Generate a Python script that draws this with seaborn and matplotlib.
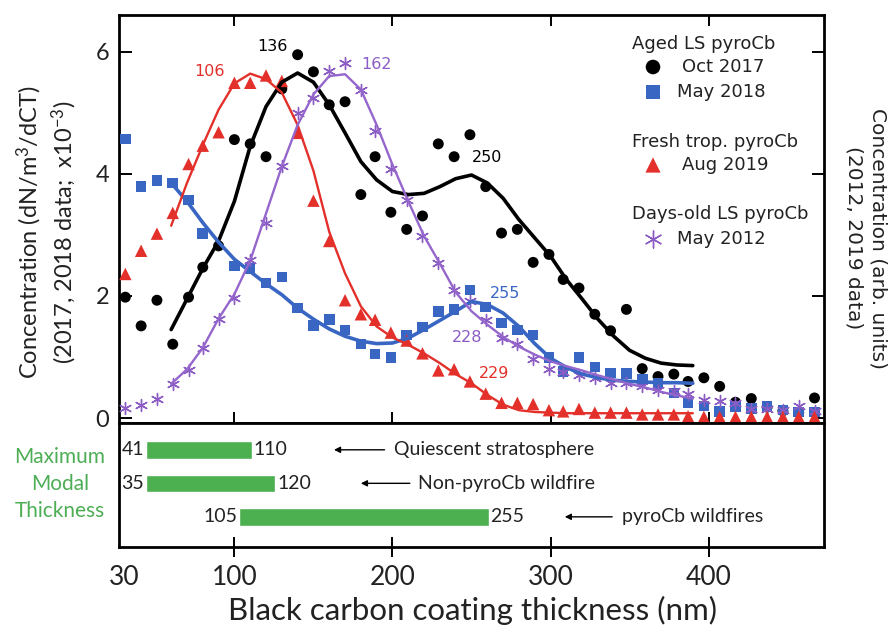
import numpy as np
import matplotlib
matplotlib.use("Agg")
import matplotlib.pyplot as plt
import seaborn as sns

sns.set_theme(style="white")
plt.rcParams['font.family'] = ['Lato', 'DejaVu Sans']
plt.rcParams['mathtext.fontset'] = 'custom'
plt.rcParams['mathtext.rm'] = 'Lato'
plt.rcParams['mathtext.it'] = 'Lato:italic'
plt.rcParams['mathtext.bf'] = 'Lato:bold'

# ---------------- data ----------------
bins = [31, 41, 51, 61, 71, 80, 90, 100, 110, 120, 130, 140, 150, 160, 170,
        180, 189, 199, 209, 219, 229, 239, 249, 259, 269, 279, 289, 299, 308, 318,
        328, 338, 348, 358, 368, 378, 387, 397, 407, 417, 427, 437, 447, 457, 467]

oct2017 = [1.98, 1.51, 1.93, 1.21, 1.98, 2.47, 2.82, 4.56, 4.49, 4.28, 5.39, 5.95, 5.67, 5.13, 5.18,
           3.66, 4.28, 3.37, 3.09, 3.31, 4.49, 4.28, 4.64, 3.79, 3.03, 3.09, 2.55, 2.68, 2.27, 2.13,
           1.70, 1.43, 1.78, 0.81, 0.68, 0.72, 0.60, 0.66, 0.52, 0.26, 0.32, 0.18, 0.12, 0.09, 0.33]

may2018 = [4.57, 3.79, 3.89, 3.85, 3.57, 3.02, np.nan, 2.49, 2.45, 2.21, 2.31, 1.80, 1.52, 1.61, 1.44,
           1.21, 1.05, 0.99, 1.36, 1.49, 1.75, 1.78, 2.10, 1.82, 1.56, 1.44, 1.36, 0.99, 0.76, 0.99,
           0.84, 0.74, 0.73, 0.63, 0.57, 0.41, 0.26, 0.20, 0.11, 0.19, 0.16, 0.19, 0.13, 0.10, 0.10]

aug2019 = [2.36, 2.74, 3.02, 3.36, 4.16, 4.46, 4.68, 5.49, 5.49, 5.61, 5.52, 4.67, 3.56, 2.90, 1.93,
           1.70, 1.61, 1.40, 1.27, 1.06, 0.78, 0.80, 0.60, 0.40, 0.25, 0.25, 0.23, 0.13, 0.11, 0.15,
           0.09, 0.09, 0.09, 0.06, 0.06, 0.06, 0.03, 0.02, 0.02, 0.02, 0.02, 0.02, 0.02, 0.02, 0.02]

may2012 = [0.17, 0.21, 0.31, 0.56, 0.79, 1.15, 1.62, 1.97, 2.59, 3.19, 4.12, 5.00, 5.24, 5.68, 5.81,
           5.38, 4.70, 4.08, 3.57, 2.98, 2.54, 2.09, 1.91, 1.60, 1.31, 1.21, 0.96, 0.81, 0.76, 0.70,
           0.66, 0.58, 0.57, 0.53, 0.46, 0.44, 0.40, 0.30, 0.28, 0.24, 0.15, 0.15, 0.14, 0.20, 0.12]

fit_x = [60, 70, 80, 90, 100, 110, 120, 130, 140, 150, 160, 170, 180, 190, 200, 210, 220,
         230, 240, 250, 260, 270, 280, 290, 300, 310, 320, 330, 340, 350, 360, 370, 380, 390]
fit_oct2017 = [1.45, 1.95, 2.45, 2.90, 3.55, 4.45, 5.10, 5.50, 5.65, 5.50, 5.13, 4.67, 4.20, 3.90, 3.71, 3.66, 3.68,
               3.79, 3.92, 3.98, 3.85, 3.60, 3.25, 2.95, 2.65, 2.27, 1.95, 1.62, 1.34, 1.11, 0.98, 0.90, 0.87, 0.86]
fit_may2018 = [3.85, 3.55, 3.20, 2.88, 2.60, 2.40, 2.20, 2.02, 1.80, 1.62, 1.46, 1.34, 1.26, 1.22, 1.23, 1.31, 1.45,
               1.60, 1.75, 1.91, 1.86, 1.72, 1.50, 1.22, 0.98, 0.83, 0.72, 0.66, 0.62, 0.60, 0.59, 0.58, 0.58, 0.57]
fit_aug2019 = [3.15, 3.85, 4.47, 5.05, 5.48, 5.64, 5.55, 5.33, 4.80, 4.05, 3.05, 2.37, 1.83, 1.50, 1.32, 1.20, 1.06,
               0.90, 0.72, 0.57, 0.38, 0.22, 0.13, 0.10, 0.09, 0.08, 0.08, 0.08, 0.08, 0.08, 0.08, 0.08, 0.08, 0.08]
fit_may2012 = [0.56, 0.80, 1.15, 1.63, 2.03, 2.58, 3.35, 4.12, 4.80, 5.30, 5.60, 5.63, 5.38, 4.80, 4.15, 3.55, 2.98,
               2.53, 2.06, 1.75, 1.53, 1.33, 1.17, 1.04, 0.93, 0.85, 0.78, 0.70, 0.63, 0.56, 0.50, 0.43, 0.37, 0.32]

peak_text = ["106", "136", "162", "250", "255", "228", "229"]
peak_x = [84, 124, 190, 260, 271, 247, 264]
peak_y = [5.67, 6.09, 5.79, 4.26, 2.04, 1.32, 0.73]

range_names = ["Quiescent stratosphere", "Non-pyroCb wildfire", "pyroCb wildfires"]
range_lo_text = ["41", "35", "105"]
range_hi_text = ["110", "120", "255"]
bar_lo = [44, 44, 103]
bar_hi = [111, 126, 261]

xtick_vals = [30, 100, 200, 300, 400]
ytick_vals = [0, 2, 4, 6]

# ---------------- style ----------------
C_BLACK = "#000000"
C_BLUE = "#3a66c3"
C_RED = "#e3302a"
C_PURPLE = "#8a5cc4"
C_PURPLE_LINE = "#9566cc"
C_GREEN = "#4caf50"
C_GREEN_TXT = "#4dae55"
LEG_FONT = "DejaVu Sans"

fig = plt.figure(figsize=(8.96, 6.25), dpi=100)
L, R = 119 / 896, 824 / 896
ax = fig.add_axes([L, 1 - 423 / 625, R - L, (423 - 15) / 625])
ax2 = fig.add_axes([L, 1 - 547 / 625, R - L, (547 - 423) / 625])

# scatter points
sns.scatterplot(x=bins, y=oct2017, ax=ax, color=C_BLACK, marker="o", s=62,
                edgecolor="none", zorder=3)
sns.scatterplot(x=bins, y=may2018, ax=ax, color=C_BLUE, marker="s", s=58,
                edgecolor="none", zorder=3)
sns.scatterplot(x=bins, y=may2012, ax=ax, color=C_PURPLE, marker=(6, 2, 0), s=75,
                edgecolor=C_PURPLE, linewidth=1.0, zorder=3)
sns.scatterplot(x=bins, y=aug2019, ax=ax, color=C_RED, marker="^", s=80,
                edgecolor="none", zorder=3)

# fitted curves
sns.lineplot(x=fit_x, y=fit_oct2017, ax=ax, color=C_BLACK, lw=2.6, zorder=4)
sns.lineplot(x=fit_x, y=fit_may2018, ax=ax, color=C_BLUE, lw=2.6, zorder=4)
sns.lineplot(x=fit_x, y=fit_aug2019, ax=ax, color=C_RED, lw=1.7, zorder=4)
sns.lineplot(x=fit_x, y=fit_may2012, ax=ax, color=C_PURPLE_LINE, lw=1.7, zorder=4)

peak_colors = [C_RED, C_BLACK, C_PURPLE, C_BLACK, C_BLUE, C_PURPLE, C_RED]
for t, px, py, c in zip(peak_text, peak_x, peak_y, peak_colors):
    ax.text(px, py, t, color=c, fontsize=11.5, family=LEG_FONT, ha="center", va="center", zorder=5)

ax.set_xlim(27, 473)
ax.set_ylim(-0.08, 6.6)
ax.set_yticks(ytick_vals)
ax.set_yticklabels([str(v) for v in ytick_vals])
ax.set_xticks(xtick_vals[1:])
ax.set_xticklabels([])
ax.set_xlabel("")
ax.set_ylabel("")
ax.tick_params(axis="y", left=True, right=True, direction="in", length=9, width=1.4,
               labelsize=17, pad=7, labelcolor="#222222", color="black")
ax.tick_params(axis="x", bottom=True, top=True, direction="in", length=8, width=1.4, color="black")
for s in ax.spines.values():
    s.set_linewidth(2.0)
    s.set_color("black")

# legend drawn as text (axes coordinates)
def axc(px, py):
    return ((px - 119) / 705, (423 - py) / 408)

leg_headers = ["Aged LS pyroCb", "Fresh trop. pyroCb", "Days-old LS pyroCb"]
leg_header_y = [44, 142, 214]
for t, py in zip(leg_headers, leg_header_y):
    ax.text(*axc(632, py), t, transform=ax.transAxes, fontsize=13, family=LEG_FONT,
            ha="left", va="center", color="#222222")
leg_items = ["Oct 2017", "May 2018", "Aug 2019", "May 2012"]
leg_item_y = [67, 92, 165, 239]
leg_item_x = [682, 677, 682, 677]
leg_marker = ["o", "s", "^", (6, 2, 0)]
leg_col = [C_BLACK, C_BLUE, C_RED, C_PURPLE]
leg_size = [110, 95, 120, 150]
for t, py, tx, m, c, sz in zip(leg_items, leg_item_y, leg_item_x, leg_marker, leg_col, leg_size):
    ax.text(*axc(tx, py), t, transform=ax.transAxes, fontsize=13, family=LEG_FONT,
            ha="left", va="center", color="#222222")
    mx, my = axc(653, py)
    ax.scatter([mx], [my], transform=ax.transAxes, marker=m, s=sz, color=c,
               edgecolors=c if m == (6, 2, 0) else "none", linewidths=1.0, clip_on=False, zorder=6)

# ---------------- lower panel ----------------
rows = [0, 1, 2]
ax2.barh(rows, np.array(bar_hi) - np.array(bar_lo), left=bar_lo, height=0.52, color=C_GREEN)
for r, lo, hi, tlo, thi in zip(rows, bar_lo, bar_hi, range_lo_text, range_hi_text):
    ax2.text(lo - 1, r, tlo, ha="right", va="center", fontsize=14, color="#222222")
    ax2.text(hi + 1, r, thi, ha="left", va="center", fontsize=14, color="#222222")

arrow_tip = [163, 180, 309]
arrow_tail = [195, 211, 339]
name_x = [201, 216, 345]
for r, tip, tail, nx, name in zip(rows, arrow_tip, arrow_tail, name_x, range_names):
    ax2.annotate("", xy=(tip, r), xytext=(tail, r),
                 arrowprops=dict(arrowstyle="-|>", color="black", lw=1.0,
                                 mutation_scale=9, shrinkA=0, shrinkB=0))
    ax2.text(nx, r, name, ha="left", va="center", fontsize=14, color="#222222")

ax2.set_xlim(27, 473)
ax2.set_ylim(2.9, -0.8)
ax2.set_yticks([])
ax2.set_xticks(xtick_vals)
ax2.set_xticklabels([str(v) for v in xtick_vals])
ax2.tick_params(axis="x", bottom=True, top=True, direction="inout", length=14, width=1.4,
                labelsize=19, pad=6, labelcolor="#222222", color="black")
ax2.xaxis.get_major_ticks()[0].tick1line.set_visible(False)
ax2.xaxis.get_major_ticks()[0].tick2line.set_visible(False)
ax2.tick_params(axis="x", which="major", top=False)
for s in ax2.spines.values():
    s.set_linewidth(2.0)
    s.set_color("black")

# axis titles
fig.text(472 / 896, 1 - 610 / 625, "Black carbon coating thickness (nm)", ha="center", va="center",
         fontsize=22.5, color="#222222")
fig.text(47 / 896, 1 - 232 / 625,
         "Concentration (dN/m$^3$/dCT)\n(2017, 2018 data;  x10$^{-3}$)",
         rotation=90, ha="center", va="center", fontsize=17, color="#222222",
         multialignment="center", linespacing=1.25)
fig.text(866 / 896, 1 - 238 / 625, "Concentration (arb. units)\n(2012, 2019 data)",
         rotation=270, ha="center", va="center", fontsize=14.5, family=LEG_FONT,
         color="#222222", multialignment="center", linespacing=1.35)
fig.text(60 / 896, 1 - 484 / 625, "Maximum\nModal\nThickness", ha="center", va="center",
         fontsize=15, color=C_GREEN_TXT, linespacing=1.45)

fig.savefig("out.png", dpi=100)
